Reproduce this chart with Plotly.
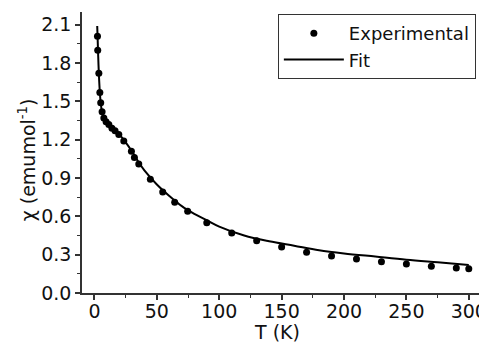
import plotly.graph_objects as go

# Experimental data (T in K, chi in emu/mol)
exp_T = [2.4, 2.6, 3.5, 4.3, 5.0, 6.1, 7.5, 9.3, 11.5, 14.0, 16.5, 19.5, 23.5,
         29.6, 32.0, 35.5, 44.8, 54.7, 64.3, 74.7, 90, 110, 130, 150, 170, 190,
         210, 230, 250, 270, 290, 300]
exp_chi = [2.01, 1.90, 1.72, 1.57, 1.49, 1.42, 1.37, 1.34, 1.32, 1.29, 1.27, 1.24, 1.19,
           1.11, 1.06, 1.01, 0.89, 0.79, 0.71, 0.64, 0.55, 0.47, 0.41, 0.36, 0.32, 0.29,
           0.266, 0.245, 0.227, 0.21, 0.196, 0.19]

# Fit curve
fit_T = [2.2, 2.5, 3.0, 3.5, 4.3, 5, 6, 8, 10, 15, 20, 25, 30, 35, 40, 50, 60, 70, 80,
         90, 100, 120, 140, 160, 180, 200, 225, 250, 275, 300]
fit_chi = [2.09, 2.0, 1.85, 1.72, 1.57, 1.49, 1.42, 1.36, 1.33, 1.28, 1.24, 1.18, 1.11,
           1.03, 0.96, 0.85, 0.76, 0.68, 0.62, 0.57, 0.52, 0.45, 0.405, 0.37, 0.335,
           0.31, 0.285, 0.26, 0.24, 0.22]

x_ticks = [0, 50, 100, 150, 200, 250, 300]
y_ticks = [0.0, 0.3, 0.6, 0.9, 1.2, 1.5, 1.8, 2.1]

FONT = "DejaVu Sans"
FS = 19

fig = go.Figure()
fig.add_trace(go.Scatter(x=exp_T, y=exp_chi, mode="markers", name="Experimental",
                         marker=dict(color="black", size=7)))
fig.add_trace(go.Scatter(x=fit_T, y=fit_chi, mode="lines", name="Fit",
                         line=dict(color="black", width=2, shape="spline")))

axis_common = dict(showgrid=False, zeroline=False, showline=True, linecolor="#333",
                   linewidth=1.5, ticks="outside", ticklen=5, tickwidth=1.5,
                   tickcolor="#333", tickfont=dict(family=FONT, size=FS, color="#111"),
                   mirror=False, automargin=False)

fig.update_xaxes(range=[-10, 313], tickvals=x_ticks, ticktext=[str(v) for v in x_ticks],
                 minor=dict(ticks="outside", ticklen=3, tickwidth=1.2, tickcolor="#333", dtick=25, tick0=0),
                 ticklabelstandoff=-5,
                 **axis_common)
fig.update_yaxes(range=[0, 2.2], tickvals=y_ticks, ticktext=[f"{v:.1f}" for v in y_ticks],
                 minor=dict(ticks="outside", ticklen=3, tickwidth=1.2, tickcolor="#333", dtick=0.15, tick0=0),
                 **axis_common)

fig.add_annotation(text="T (K)", xref="paper", yref="paper", x=0.484, y=-0.139,
                   xanchor="center", yanchor="middle", showarrow=False,
                   font=dict(family=FONT, size=FS, color="#111"))
fig.add_annotation(text="χ (emumol<sup>-1</sup>)", xref="paper", yref="paper", x=-0.136, y=0.473,
                   xanchor="center", yanchor="middle", showarrow=False, textangle=-90,
                   font=dict(family=FONT, size=FS, color="#111"))

# page body has an 8px margin, so the figure is sized to fit the window
fig.update_layout(
    width=479, height=335,
    margin=dict(l=74, r=2, t=4, b=50),
    plot_bgcolor="white", paper_bgcolor="white",
    font=dict(family=FONT, size=FS, color="#111"),
    legend=dict(x=0.486, y=0.993, xanchor="left", yanchor="top",
                bordercolor="#333", borderwidth=1, bgcolor="white",
                font=dict(family=FONT, size=18, color="#111"),
                tracegroupgap=0, itemwidth=60),
    showlegend=True,
)

fig.write_html("out.html")
